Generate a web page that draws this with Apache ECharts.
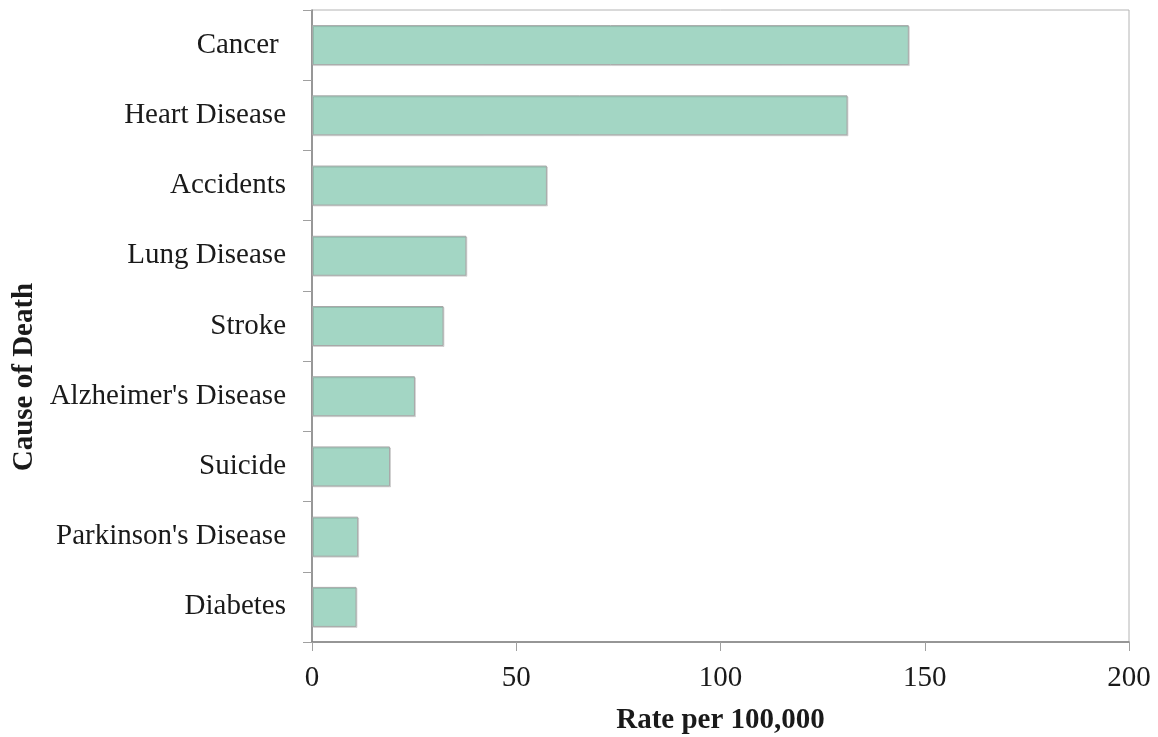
<!DOCTYPE html>
<html>
<head>
<meta charset="utf-8">
<script src="https://cdn.jsdelivr.net/npm/echarts@6/dist/echarts.min.js"></script>
<style>
html,body{margin:0;padding:0;background:#fff;}
#chart{width:1158px;height:737px;}
</style>
</head>
<body>
<div id="chart"></div>
<script>
const categories = ["Cancer ", "Heart Disease", "Accidents", "Lung Disease", "Stroke", "Alzheimer's Disease", "Suicide", "Parkinson's Disease", "Diabetes"];
const rates = [146.1, 131.1, 57.5, 37.8, 32.2, 25.2, 19.1, 11.3, 10.9];
const xTicks = [0, 50, 100, 150, 200];
const xTitle = "Rate per 100,000";
const yTitle = "Cause of Death";

const FONT = "'Liberation Serif', 'Times New Roman', serif";
const chart = echarts.init(document.getElementById('chart'), null, {renderer: 'canvas'});
chart.setOption({
  animation: false,
  backgroundColor: '#ffffff',
  grid: {left: 312, top: 10, right: 29, bottom: 95, show: true, borderColor: '#b4b4b4', borderWidth: 1,
    backgroundColor: 'transparent', containLabel: false, outerBoundsMode: 'none'},
  xAxis: {
    type: 'value', min: xTicks[0], max: xTicks[xTicks.length - 1], interval: 50,
    name: xTitle, nameLocation: 'middle', nameGap: 64,
    nameTextStyle: {fontFamily: FONT, fontSize: 29, fontWeight: 'bold', color: '#1a1a1a'},
    axisLine: {show: true, lineStyle: {color: '#808080', width: 1.5}},
    axisTick: {show: true, inside: false, length: 9, lineStyle: {color: '#a0a0a0'}},
    axisLabel: {fontFamily: FONT, fontSize: 29, color: '#1a1a1a', margin: 22},
    splitLine: {show: false}
  },
  yAxis: {
    type: 'category', data: categories, inverse: true,
    axisLine: {show: true, lineStyle: {color: '#808080', width: 1.5}},
    axisTick: {show: true, inside: false, length: 9, lineStyle: {color: '#a0a0a0'}},
    axisLabel: {fontFamily: FONT, fontSize: 29, color: '#1a1a1a', margin: 26},
    splitLine: {show: false}
  },
  graphic: [{
    type: 'text', x: 25, y: 377, rotation: Math.PI / 2,
    style: {text: yTitle, font: "bold 29px " + FONT, fill: '#1a1a1a', align: 'center', verticalAlign: 'middle'}
  }],
  series: [{
    type: 'bar', data: rates, barWidth: 40,
    itemStyle: {color: '#a3d6c4', borderColor: '#a8a8a8', borderWidth: 1,
      shadowColor: 'rgba(0,0,0,0.12)', shadowOffsetX: 1, shadowOffsetY: 1, shadowBlur: 0}
  }]
});
</script>
</body>
</html>
